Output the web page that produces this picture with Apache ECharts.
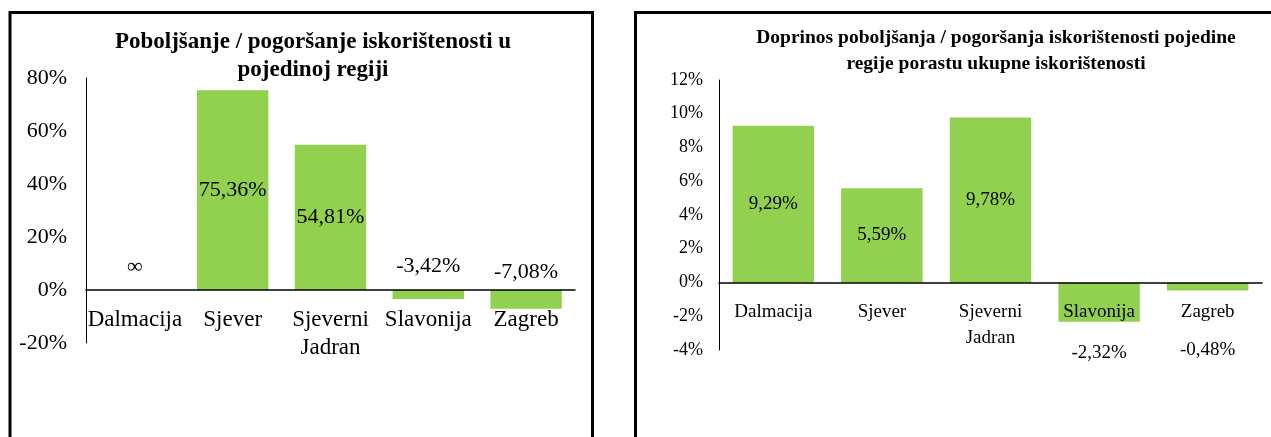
<!DOCTYPE html>
<html>
<head>
<meta charset="utf-8">
<script src="https://cdn.jsdelivr.net/npm/echarts@6/dist/echarts.min.js"></script>
<style>
  html, body { margin: 0; padding: 0; background: #fff; }
  #chart { width: 1271px; height: 437px; }
</style>
</head>
<body>
<div id="chart"></div>
<script>
// regions (same for both charts)
const regions = ['Dalmacija', 'Sjever', 'Sjeverni Jadran', 'Slavonija', 'Zagreb'];

// left: improvement / deterioration per region (Dalmacija is infinite, drawn as 0 with ∞)
const changeValues = [0, 75.36, 54.81, -3.42, -7.08];
const changeTicks = [-20, 0, 20, 40, 60, 80];

// right: contribution of each region to total growth
const contribValues = [9.29, 5.59, 9.78, -2.32, -0.48];
const contribTicks = [-4, -2, 0, 2, 4, 6, 8, 10, 12];

const FONT = 'Liberation Serif';
const GREEN = '#92D050';

const myChart = echarts.init(document.getElementById('chart'));

const pct = function (v) {
  return v.toFixed(2).replace('.', ',') + '%';
};

// left value labels: inside for positives, above the zero line otherwise
const leftData = changeValues.map(function (v, i) {
  let label;
  if (i === 0) {
    label = { position: 'top', distance: 12, formatter: '∞' };
  } else if (v > 0) {
    label = { position: 'inside' };
  } else {
    label = { position: 'top', distance: v < -5 ? 7 : 13 };
  }
  return { value: v, label: label };
});

const rightData = contribValues.map(function (v) {
  let label;
  if (v > 0) {
    label = { position: 'inside' };
  } else {
    label = { position: 'bottom', distance: v < -1 ? 22 : 50 };
  }
  return { value: v, label: label };
});

const option = {
  animation: false,
  textStyle: { fontFamily: FONT },
  graphic: [
    { type: 'rect', shape: { x: 10, y: 12.5, width: 582.5, height: 500 },
      style: { fill: 'none', stroke: '#000', lineWidth: 3 } },
    { type: 'rect', shape: { x: 635.5, y: 12.5, width: 700, height: 500 },
      style: { fill: 'none', stroke: '#000', lineWidth: 3 } }
  ],
  title: [
    {
      text: 'Poboljšanje / pogoršanje iskorištenosti u\npojedinoj regiji',
      left: 308, top: 23, textAlign: 'center',
      textStyle: { fontFamily: FONT, fontWeight: 'bold', fontSize: 23, lineHeight: 28, color: '#000' }
    },
    {
      text: 'Doprinos poboljšanja / pogoršanja iskorištenosti pojedine\nregije porastu ukupne iskorištenosti',
      left: 991, top: 20, textAlign: 'center',
      textStyle: { fontFamily: FONT, fontWeight: 'bold', fontSize: 19.5, lineHeight: 26, color: '#000' }
    }
  ],
  grid: [
    { left: 86, top: 78, width: 489, height: 265 },
    { left: 719, top: 80, width: 543, height: 270 }
  ],
  xAxis: [
    {
      type: 'category', gridIndex: 0, data: regions, z: 3,
      axisLine: { onZero: true, lineStyle: { color: '#000', width: 1.5 } },
      axisTick: { show: false },
      axisLabel: {
        interval: 0, margin: -37, fontFamily: FONT, fontSize: 23, lineHeight: 28, color: '#000',
        formatter: function (s) { return s.replace(' ', '\n'); }
      }
    },
    {
      type: 'category', gridIndex: 1, data: regions, z: 3,
      axisLine: { onZero: true, lineStyle: { color: '#000', width: 1.5 } },
      axisTick: { show: false },
      axisLabel: {
        interval: 0, margin: -51, fontFamily: FONT, fontSize: 19, lineHeight: 26, color: '#000',
        formatter: function (s) { return s.replace(' ', '\n'); }
      }
    }
  ],
  yAxis: [
    {
      type: 'value', gridIndex: 0,
      min: changeTicks[0], max: changeTicks[changeTicks.length - 1], interval: changeTicks[1] - changeTicks[0],
      axisLine: { show: true, lineStyle: { color: '#000', width: 1 } },
      axisTick: { show: false },
      splitLine: { show: false },
      axisLabel: { margin: 19, fontFamily: FONT, fontSize: 22, color: '#000', formatter: '{value}%' }
    },
    {
      type: 'value', gridIndex: 1,
      min: contribTicks[0], max: contribTicks[contribTicks.length - 1], interval: contribTicks[1] - contribTicks[0],
      axisLine: { show: true, lineStyle: { color: '#000', width: 1 } },
      axisTick: { show: false },
      splitLine: { show: false },
      axisLabel: { margin: 16, fontFamily: FONT, fontSize: 18, color: '#000', formatter: '{value}%' }
    }
  ],
  series: [
    {
      type: 'bar', xAxisIndex: 0, yAxisIndex: 0, data: leftData,
      barCategoryGap: '27%',
      itemStyle: { color: GREEN },
      label: {
        show: true, fontFamily: FONT, fontSize: 22, color: '#000',
        formatter: function (p) { return pct(p.value); }
      }
    },
    {
      type: 'bar', xAxisIndex: 1, yAxisIndex: 1, data: rightData,
      barCategoryGap: '25%',
      itemStyle: { color: GREEN },
      label: {
        show: true, fontFamily: FONT, fontSize: 19, color: '#000',
        formatter: function (p) { return pct(p.value); }
      }
    }
  ]
};

option && myChart.setOption(option);
</script>
</body>
</html>
